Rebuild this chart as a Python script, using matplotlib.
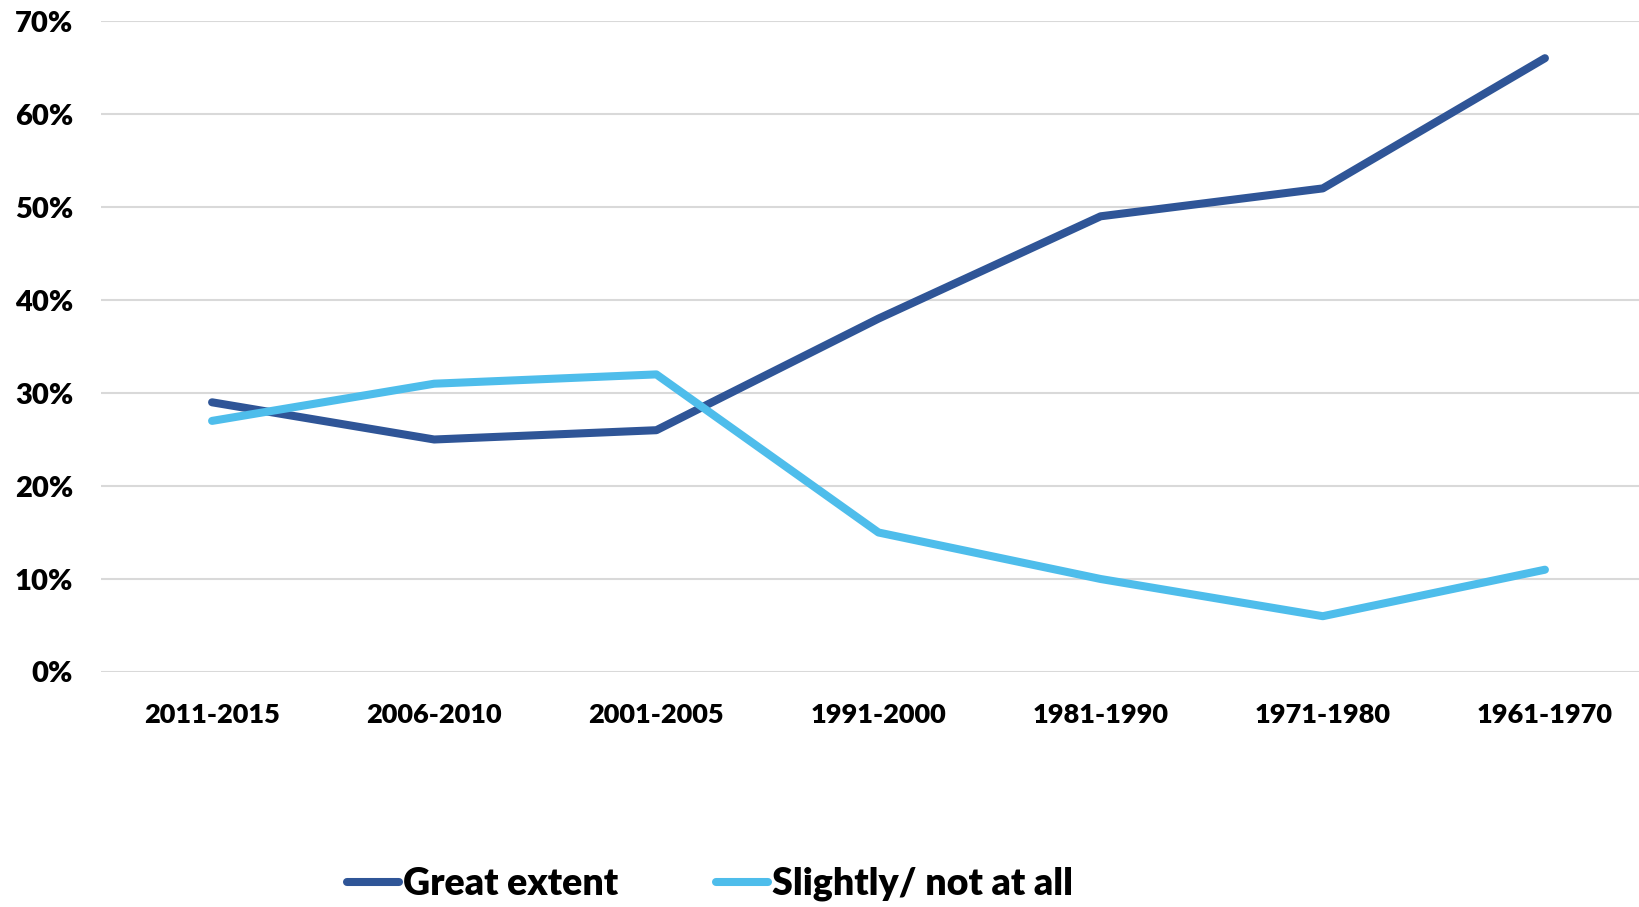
import matplotlib.pyplot as plt
from matplotlib.ticker import PercentFormatter

periods = ["2011-2015", "2006-2010", "2001-2005", "1991-2000", "1981-1990", "1971-1980", "1961-1970"]
great_extent = [29, 25, 26, 38, 49, 52, 66]
slightly_not = [27, 31, 32, 15, 10, 6, 11]

plt.rcParams['font.family'] = ['Lato', 'DejaVu Sans']
plt.rcParams['font.weight'] = 'heavy'

fig = plt.figure(figsize=(16.39, 9.07), dpi=100)
# axes span a bit past the right edge so the gridlines run off the canvas
ax = fig.add_axes([101 / 1639, 1 - 672 / 907, 1555 / 1639, 651 / 907])

x = range(len(periods))
ax.plot(x, great_extent, color='#2F5597', lw=5.8, solid_capstyle='round',
        solid_joinstyle='round', label='Great extent')
ax.plot(x, slightly_not, color='#4EBDEB', lw=5.8, solid_capstyle='round',
        solid_joinstyle='round', label='Slightly/ not at all')

ax.set_xlim(-0.5, len(periods) - 0.5)
ax.set_ylim(0, 70)
ax.set_yticks(range(0, 71, 10))
ax.yaxis.set_major_formatter(PercentFormatter(decimals=0))
ax.set_xticks(list(x))
ax.set_xticklabels(periods)
ax.tick_params(axis='x', length=0, labelsize=19.5, pad=22)
ax.tick_params(axis='y', length=0, labelsize=21, pad=20)
for lab in ax.get_xticklabels() + ax.get_yticklabels():
    lab.set_fontweight('heavy')

ax.grid(axis='y', color='#D9D9D9', lw=1.5)
ax.set_axisbelow(True)
for s in ax.spines.values():
    s.set_visible(False)

fig.legend(loc='center', bbox_to_anchor=(710 / 1639, 1 - 884 / 907), ncol=2,
           frameon=False, handlelength=1.4, handletextpad=0.1,
           columnspacing=2.6, prop={'weight': 'heavy', 'size': 27})

fig.savefig('out.png', dpi=100)
